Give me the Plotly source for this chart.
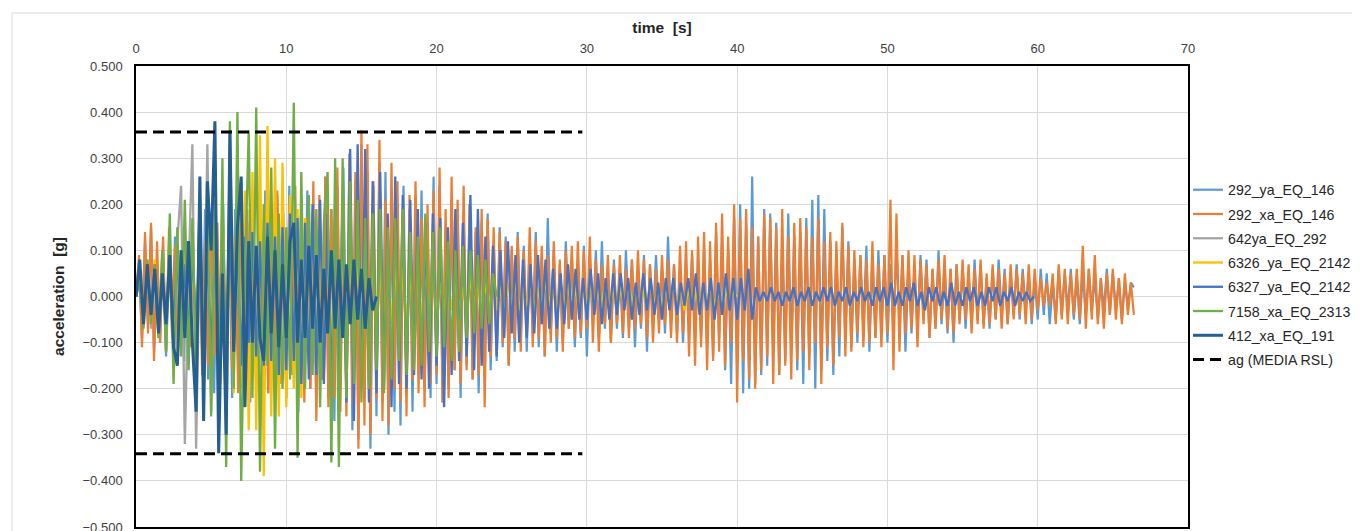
import plotly.graph_objects as go

# ---------------- data ----------------
series_names = ["292_ya_EQ_146", "292_xa_EQ_146", "642ya_EQ_292", "6326_ya_EQ_2142",
                "6327_ya_EQ_2142", "7158_xa_EQ_2313", "412_xa_EQ_191"]
series_colors = ["#5B9BD5", "#ED7D31", "#A5A5A5", "#FFC000", "#4472C4", "#70AD47", "#255E91"]
series_dt = [0.2, 0.2, 0.25, 0.25, 0.25, 0.25, 0.25]  # sampling of the digitised peaks [s]

acc_292_ya = [
    0.00, 0.07, -0.09, 0.12, -0.06, 0.15, -0.12, 0.08, -0.10, 0.11,
    -0.13, 0.09, -0.07, 0.13, -0.11, 0.10, -0.14, 0.12, -0.08, 0.11,
    -0.15, 0.17, -0.12, 0.19, -0.18, 0.13, -0.21, 0.16, -0.12, 0.20,
    -0.17, 0.14, -0.22, 0.19, -0.15, 0.21, -0.19, 0.16, -0.23, 0.18,
    -0.14, 0.20, -0.18, 0.23, -0.21, 0.15, -0.19, 0.22, -0.16, 0.18,
    -0.22, 0.24, -0.17, 0.19, -0.25, 0.21, -0.15, 0.23, -0.20, 0.17,
    -0.24, 0.20, -0.18, 0.26, -0.22, 0.19, -0.27, 0.24, -0.20, 0.28,
    -0.21, 0.31, -0.29, 0.25, -0.31, 0.33, -0.22, 0.27, -0.33, 0.24,
    -0.26, 0.29, -0.23, 0.27, -0.30, 0.22, -0.25, 0.20, -0.28, 0.24,
    -0.21, 0.19, -0.25, 0.22, -0.17, 0.23, -0.20, 0.16, -0.22, 0.26,
    -0.19, 0.24, -0.23, 0.15, -0.20, 0.21, -0.16, 0.19, -0.22, 0.17,
    -0.15, 0.20, -0.18, 0.14, -0.21, 0.16, -0.13, 0.18, -0.16, 0.12,
    -0.14, 0.15, -0.11, 0.13, -0.15, 0.10, -0.12, 0.14, -0.09, 0.11,
    -0.12, 0.10, -0.08, 0.14, -0.11, 0.09, -0.13, 0.17, -0.08, 0.10,
    -0.12, 0.07, -0.10, 0.12, -0.07, 0.09, -0.11, 0.06, -0.09, 0.11,
    -0.13, 0.08, -0.06, 0.10, -0.09, 0.12, -0.07, 0.06, -0.10, 0.08,
    -0.07, 0.05, -0.09, 0.10, -0.05, 0.08, -0.11, 0.06, -0.07, 0.09,
    -0.12, 0.07, -0.06, 0.09, -0.05, 0.06, -0.08, 0.13, -0.06, 0.07,
    -0.08, 0.06, -0.10, 0.07, -0.05, 0.09, -0.07, 0.06, -0.09, 0.10,
    -0.11, 0.08, -0.13, 0.14, -0.09, 0.12, -0.16, 0.10, -0.19, 0.17,
    -0.14, 0.20, -0.21, 0.16, -0.20, 0.26, -0.19, 0.13, -0.17, 0.19,
    -0.15, 0.18, -0.12, 0.16, -0.17, 0.11, -0.14, 0.18, -0.12, 0.13,
    -0.16, 0.14, -0.19, 0.17, -0.13, 0.21, -0.20, 0.22, -0.16, 0.19,
    -0.14, 0.12, -0.17, 0.10, -0.13, 0.15, -0.09, 0.12, -0.11, 0.08,
    -0.10, 0.09, -0.07, 0.11, -0.12, 0.08, -0.09, 0.10, -0.07, 0.09,
    -0.10, 0.07, -0.08, 0.11, -0.06, 0.09, -0.12, 0.07, -0.08, 0.06,
    -0.07, 0.09, -0.05, 0.08, -0.09, 0.06, -0.07, 0.10, -0.06, 0.05,
    -0.08, 0.06, -0.10, 0.07, -0.05, 0.06, -0.07, 0.05, -0.06, 0.08,
    -0.05, 0.07, -0.06, 0.04, -0.07, 0.06, -0.05, 0.08, -0.04, 0.06,
    -0.06, 0.05, -0.04, 0.07, -0.05, 0.06, -0.03, 0.05, -0.06, 0.04,
    -0.05, 0.06, -0.04, 0.05, -0.06, 0.03, -0.05, 0.06, -0.04, 0.05,
    -0.03, 0.06, -0.05, 0.04, -0.06, 0.05, -0.04, 0.06, -0.03, 0.04,
    -0.05, 0.04, -0.03, 0.06, -0.04, 0.05, -0.03, 0.04, -0.05, 0.03,
    -0.02, 0.03, 0.02,
]

acc_292_xa = [
    0.00, 0.09, -0.11, 0.14, -0.08, 0.16, -0.14, 0.12, -0.10, 0.13,
    -0.12, 0.15, -0.09, 0.11, -0.13, 0.10, -0.08, 0.12, -0.11, 0.09,
    -0.13, 0.14, -0.17, 0.12, -0.15, 0.18, -0.13, 0.16, -0.19, 0.14,
    -0.12, 0.20, -0.16, 0.13, -0.21, 0.17, -0.14, 0.19, -0.18, 0.13,
    -0.20, 0.22, -0.15, 0.18, -0.21, 0.14, -0.17, 0.23, -0.19, 0.16,
    -0.22, 0.20, -0.16, 0.24, -0.18, 0.21, -0.23, 0.17, -0.20, 0.25,
    -0.27, 0.22, -0.18, 0.26, -0.24, 0.19, -0.22, 0.28, -0.25, 0.21,
    -0.26, 0.30, -0.23, 0.27, -0.33, 0.36, -0.28, 0.33, -0.30, 0.25,
    -0.22, 0.34, -0.27, 0.21, -0.28, 0.29, -0.20, 0.25, -0.23, 0.19,
    -0.26, 0.22, -0.18, 0.25, -0.21, 0.17, -0.24, 0.20, -0.19, 0.23,
    -0.17, 0.28, -0.23, 0.19, -0.22, 0.26, -0.16, 0.21, -0.19, 0.24,
    -0.16, 0.20, -0.18, 0.15, -0.17, 0.19, -0.24, 0.17, -0.13, 0.15,
    -0.12, 0.14, -0.10, 0.12, -0.15, 0.11, -0.09, 0.13, -0.12, 0.10,
    -0.08, 0.15, -0.11, 0.12, -0.09, 0.11, -0.13, 0.09, -0.10, 0.12,
    -0.09, 0.08, -0.12, 0.10, -0.07, 0.11, -0.09, 0.12, -0.08, 0.10,
    -0.07, 0.13, -0.10, 0.08, -0.12, 0.07, -0.06, 0.09, -0.10, 0.07,
    -0.06, 0.09, -0.08, 0.06, -0.09, 0.08, -0.07, 0.10, -0.06, 0.08,
    -0.09, 0.07, -0.10, 0.06, -0.08, 0.09, -0.06, 0.08, -0.09, 0.07,
    -0.10, 0.11, -0.08, 0.12, -0.13, 0.10, -0.15, 0.13, -0.11, 0.14,
    -0.16, 0.12, -0.14, 0.16, -0.12, 0.18, -0.15, 0.13, -0.10, 0.20,
    -0.23, 0.17, -0.14, 0.19, -0.18, 0.15, -0.20, 0.13, -0.16, 0.18,
    -0.13, 0.17, -0.19, 0.15, -0.17, 0.19, -0.15, 0.13, -0.18, 0.16,
    -0.14, 0.17, -0.12, 0.15, -0.16, 0.13, -0.10, 0.17, -0.19, 0.12,
    -0.11, 0.14, -0.15, 0.12, -0.09, 0.16, -0.13, 0.11, -0.12, 0.10,
    -0.08, 0.09, -0.11, 0.08, -0.10, 0.12, -0.09, 0.07, -0.11, 0.09,
    -0.08, 0.21, -0.16, 0.18, -0.12, 0.09, -0.08, 0.10, -0.07, 0.09,
    -0.11, 0.08, -0.06, 0.07, -0.09, 0.06, -0.07, 0.08, -0.05, 0.09,
    -0.07, 0.06, -0.08, 0.07, -0.06, 0.08, -0.05, 0.07, -0.08, 0.06,
    -0.06, 0.08, -0.07, 0.05, -0.06, 0.07, -0.05, 0.06, -0.07, 0.05,
    -0.06, 0.07, -0.05, 0.06, -0.04, 0.05, -0.06, 0.07, -0.05, 0.06,
    -0.03, 0.04, -0.02, 0.03, -0.02, 0.05, -0.06, 0.07, -0.05, 0.06,
    -0.06, 0.05, -0.04, 0.06, -0.05, 0.11, -0.07, 0.06, -0.05, 0.09,
    -0.06, 0.04, -0.07, 0.05, -0.04, 0.06, -0.05, 0.04, -0.06, 0.05,
    -0.04, 0.03, -0.04,
]

acc_642_ya = [
    0.00, 0.05, -0.04, 0.08, -0.07, 0.06, -0.09, 0.10,
    -0.12, 0.10, -0.15, 0.12, 0.24, -0.32, 0.05, 0.33,
    -0.33, 0.12, -0.15, 0.33, -0.25, 0.18, -0.21, 0.15,
    -0.18, 0.20, -0.14, 0.16, -0.19, 0.13, -0.12, 0.15,
    -0.13, 0.11, -0.14, 0.12, -0.10, 0.13, -0.11, 0.09,
    -0.10, 0.08, -0.09, 0.10, -0.07, 0.08, -0.06, 0.05,
    0.00,
]

acc_6326_ya = [
    0.00, 0.04, -0.06, 0.07, -0.05, 0.08, -0.07, 0.06,
    -0.08, 0.07, -0.09, 0.10, -0.08, 0.11, -0.10, 0.09,
    -0.12, 0.14, -0.11, 0.16, -0.13, 0.12, -0.17, 0.22,
    -0.19, 0.18, -0.21, 0.25, -0.20, 0.23, -0.29, 0.27,
    -0.29, 0.35, -0.39, 0.37, -0.26, 0.30, -0.26, 0.29,
    -0.24, 0.22, -0.20, 0.19, -0.22, 0.17, -0.15, 0.18,
    -0.16, 0.14, -0.17, 0.12, -0.13, 0.15, -0.11, 0.12,
    -0.12, 0.10, -0.11, 0.09, -0.10, 0.11, -0.08, 0.09,
    -0.09, 0.07, -0.08, 0.08, -0.06, 0.07, -0.07, 0.06,
    -0.06, 0.05, -0.07, 0.06, -0.05, 0.06, -0.04, 0.05,
    -0.04, 0.03, -0.05, 0.04, -0.03, 0.04, -0.03, 0.02,
    -0.03, 0.04, -0.02, 0.03, -0.04, 0.03, -0.02, 0.03,
    -0.03, 0.02, -0.04, 0.03, -0.02, 0.03, -0.03, 0.02,
    -0.02, 0.03, -0.03, 0.02, -0.03, 0.04, -0.02, 0.03,
    -0.04, 0.03, -0.02, 0.03, -0.03, 0.02, -0.04, 0.03,
    -0.02, 0.03, -0.03, 0.02, -0.02, 0.03, -0.03, 0.02,
    -0.03, 0.02, -0.02, 0.03, -0.02, 0.02, -0.03, 0.02,
    -0.02, 0.03, -0.02, 0.02, -0.03, 0.02, -0.02, 0.03,
    -0.02, 0.02, -0.03, 0.02, -0.02, 0.01, -0.02, 0.02,
    -0.01, 0.02, -0.02, 0.01, -0.02, 0.01, -0.01, 0.01,
    0.00,
]

acc_6327_ya = [
    0.00, 0.03, -0.05, 0.06, -0.04, 0.07, -0.06, 0.05,
    -0.07, 0.08, -0.06, 0.09, -0.08, 0.07, -0.09, 0.10,
    -0.08, 0.11, -0.10, 0.09, -0.12, 0.10, -0.11, 0.13,
    -0.12, 0.14, -0.11, 0.12, -0.15, 0.13, -0.10, 0.14,
    -0.13, 0.12, -0.15, 0.16, -0.14, 0.13, -0.17, 0.15,
    -0.16, 0.18, -0.14, 0.17, -0.19, 0.16, -0.18, 0.20,
    -0.17, 0.21, -0.19, 0.18, -0.22, 0.20, -0.18, 0.22,
    -0.23, 0.32, -0.27, 0.33, -0.20, 0.32, -0.23, 0.25,
    -0.21, 0.27, -0.20, 0.18, -0.24, 0.26, -0.19, 0.22,
    -0.20, 0.21, -0.17, 0.19, -0.18, 0.16, -0.20, 0.18,
    -0.15, 0.17, -0.24, 0.15, -0.17, 0.19, -0.14, 0.16,
    -0.13, 0.22, -0.16, 0.19, -0.15, 0.13, -0.12, 0.11,
    -0.13, 0.10, -0.09, 0.12, -0.08, 0.09, -0.10, 0.08,
    -0.09, 0.07, -0.08, 0.09, -0.06, 0.08, -0.07, 0.06,
    -0.07, 0.05, -0.06, 0.07, -0.05, 0.06, -0.05, 0.04,
    -0.05, 0.06, -0.04, 0.05, -0.06, 0.04, -0.05, 0.05,
    -0.04, 0.05, -0.03, 0.04, -0.05, 0.03, -0.04, 0.05,
    -0.03, 0.04, -0.04, 0.03, -0.05, 0.04, -0.03, 0.04,
    -0.04, 0.03, -0.02, 0.04, -0.03, 0.05, -0.04, 0.03,
    -0.03, 0.04, -0.05, 0.03, -0.04, 0.05, -0.03, 0.04,
    -0.05, 0.04, -0.03, 0.06, -0.05, 0.02, -0.01, 0.01,
    -0.01, 0.02, -0.01, 0.01, -0.02, 0.01, -0.01, 0.02,
    -0.02, 0.01, -0.01, 0.02, -0.02, 0.01, -0.01, 0.02,
    -0.01, 0.02, -0.02, 0.01, -0.01, 0.02, -0.02, 0.01,
    -0.01, 0.02, -0.01, 0.01, -0.02, 0.02, -0.01, 0.02,
    -0.02, 0.03, -0.02, 0.01, -0.02, 0.02, -0.01, 0.03,
    -0.02, 0.01, -0.03, 0.02, -0.01, 0.02, -0.02, 0.01,
    -0.02, 0.03, -0.02, 0.01, -0.02, 0.02, -0.01, 0.02,
    -0.02, 0.01, -0.02, 0.02, -0.01, 0.02, -0.02, 0.01,
    -0.01, 0.02, -0.02, 0.01, -0.01, 0.01, -0.01, 0.00,
]

acc_7158_xa = [
    0.00, 0.05, -0.07, 0.08, -0.06, 0.07, -0.09, 0.10,
    -0.12, 0.18, -0.19, 0.15, -0.13, 0.21, -0.16, 0.17,
    -0.18, 0.22, -0.20, 0.24, -0.26, 0.21, -0.28, 0.30,
    -0.37, 0.38, -0.20, 0.40, -0.40, 0.05, 0.36, -0.22,
    0.41, -0.38, 0.20, -0.15, 0.28, -0.33, 0.18, -0.20,
    0.15, -0.18, 0.42, -0.35, 0.27, -0.20, 0.22, -0.17,
    0.19, -0.24, 0.16, 0.27, -0.36, 0.30, -0.37, 0.30,
    -0.22, 0.25, -0.19, 0.21, -0.23, 0.17, -0.20, 0.18,
    -0.16, 0.19, -0.21, 0.15, -0.18, 0.17, -0.14, 0.19,
    -0.17, 0.14, -0.16, 0.13, -0.15, 0.18, -0.12, 0.14,
    -0.13, 0.15, -0.11, 0.12, -0.14, 0.10, -0.12, 0.11,
    -0.09, 0.10, -0.08, 0.09, -0.07, 0.08, -0.06, 0.05,
    0.00,
]

acc_412_xa = [
    0.00, 0.08, -0.06, 0.07, -0.04, 0.06, -0.08, 0.05,
    -0.06, 0.09, -0.11, -0.15, 0.10, -0.09, 0.12, -0.10,
    -0.25, 0.26, -0.27, 0.25, 0.10, 0.38, -0.34, 0.05,
    -0.30, 0.36, -0.12, 0.15, 0.26, -0.24, 0.12, -0.10,
    0.11, -0.09, -0.14, 0.13, -0.08, 0.10, -0.11, 0.07,
    -0.09, 0.12, 0.16, -0.10, 0.08, -0.09, 0.11, -0.07,
    0.09, -0.10, 0.06, -0.08, 0.10, -0.07, 0.08, -0.09,
    0.07, -0.06, 0.08, -0.05, 0.06, -0.07, 0.04, -0.03,
    0.00,
]

all_series = [acc_292_ya, acc_292_xa, acc_642_ya, acc_6326_ya,
              acc_6327_ya, acc_7158_xa, acc_412_xa]
series_widths = [2.2, 2.2, 2.3, 2.3, 2.3, 2.3, 3.0]

ag_name = "ag (MEDIA RSL)"
ag_pos = 0.357
ag_neg = -0.341
ag_t_end = 29.7

x_ticks = [0, 10, 20, 30, 40, 50, 60, 70]
y_ticks = [-0.5, -0.4, -0.3, -0.2, -0.1, 0.0, 0.1, 0.2, 0.3, 0.4, 0.5]

# ---------------- figure ----------------
FONT = "Liberation Sans, Arial, sans-serif"
fig = go.Figure()

for name, color, wdt, dt, vals in zip(series_names, series_colors, series_widths,
                                      series_dt, all_series):
    t = [i * dt for i in range(len(vals))]
    fig.add_trace(go.Scatter(
        x=t, y=vals, mode="lines", name=name, legendgroup=name,
        line=dict(color=color, width=wdt), hoverinfo="skip"))

fig.add_trace(go.Scatter(
    x=[0, ag_t_end, None, 0, ag_t_end], y=[ag_pos, ag_pos, None, ag_neg, ag_neg],
    mode="lines", name=ag_name, legendgroup=ag_name,
    line=dict(color="black", width=3, dash="11px,6px"), hoverinfo="skip"))

# page body has an 8 px margin -> figure placed at (8, 8)
OFF = 8
W, H = 1360 - OFF, 531 - OFF
L, R, T, B = 136 - OFF, 1188 - OFF, 66 - OFF, 527 - OFF
fig.update_layout(
    width=W, height=H,
    margin=dict(l=L, r=W - R, t=T, b=H - B, autoexpand=False),
    paper_bgcolor="white", plot_bgcolor="white",
    font=dict(family=FONT, size=13, color="#404040"),
    showlegend=True,
    legend=dict(x=1.0, xanchor="left", y=(B - 174 + OFF) / (B - T), yanchor="top",
                font=dict(size=14.2, color="#262626", family=FONT),
                tracegroupgap=2.8, bgcolor="rgba(0,0,0,0)"),
    xaxis=dict(range=[0, 70], tickvals=x_ticks, side="top",
               showgrid=True, gridcolor="#D9D9D9", gridwidth=1,
               showline=True, mirror=True, linecolor="black", linewidth=1.5,
               zeroline=False, ticks="", ticklabelstandoff=6,
               tickfont=dict(size=13, color="#404040"),
               title=dict(text="<b>time\u00a0 [s]</b>", standoff=4,
                          font=dict(size=15.5, color="#262626"))),
    yaxis=dict(range=[-0.5, 0.5], tickvals=y_ticks, tickformat=".3f",
               showgrid=True, gridcolor="#D9D9D9", gridwidth=1,
               showline=True, mirror=True, linecolor="black", linewidth=1.5,
               zeroline=False, ticks="", ticklabelstandoff=9,
               ticklabeloverflow="allow",
               tickfont=dict(size=13, color="#404040"),
               title=dict(text="<b>acceleration\u00a0 [g]</b>", standoff=14,
                          font=dict(size=15.5, color="#262626"))),
    shapes=[dict(type="rect", xref="paper", yref="paper",
                 x0=(12 - OFF - L) / (R - L), x1=(1359 - OFF - L) / (R - L),
                 y0=(B - 560) / (B - T), y1=(B - 13 + OFF) / (B - T),
                 line=dict(color="#D9D9D9", width=1), fillcolor="rgba(0,0,0,0)",
                 layer="below")],
)

fig.write_html("out.html")
